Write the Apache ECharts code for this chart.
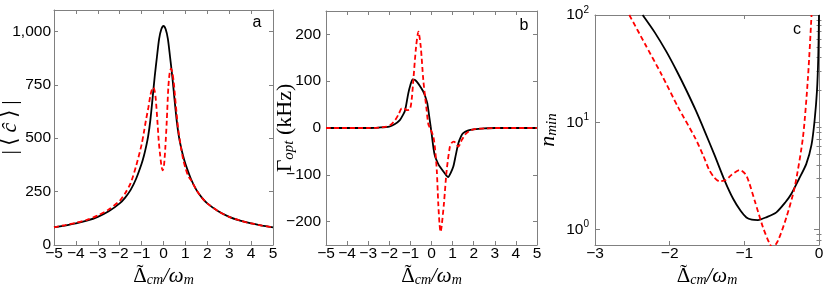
<!DOCTYPE html>
<html><head><meta charset="utf-8">
<script src="https://cdn.jsdelivr.net/npm/echarts@6/dist/echarts.min.js"></script>
<style>html,body{margin:0;padding:0;background:#fff}#c{width:830px;height:291px}</style>
</head><body><div id="c"></div>
<script>
// ---- data ----
const aBlackX = [-5,-4.5,-4,-3.5,-3,-2.5,-2,-1.75,-1.5,-1.25,-1,-0.9,-0.8,-0.7,-0.6,-0.5,-0.4,-0.3,-0.2,-0.1,0,0.1,0.2,0.3,0.4,0.5,0.6,0.7,0.8,0.9,1,1.25,1.5,1.75,2,2.5,3,3.5,4,4.5,5];
const aBlackY = [82,91,101,114,132,158,195,222,258,310,380,415,458,510,585,685,790,880,965,1010,1025,1010,965,880,790,685,585,510,458,415,380,310,258,222,195,158,132,114,101,91,82];
const aRedX = [-5,-4.5,-4,-3.5,-3,-2.5,-2,-1.75,-1.5,-1.25,-1,-0.9,-0.8,-0.69,-0.6,-0.53,-0.47,-0.4,-0.35,-0.28,-0.22,-0.16,-0.1,-0.04,0.02,0.08,0.15,0.22,0.28,0.34,0.4,0.47,0.53,0.6,0.68,0.8,0.9,1,1.13,1.25,1.5,1.75,2,2.5,3,3.5,4,4.5,5];
const aRedY = [83,93,104,118,138,166,207,242,290,370,470,525,585,644,700,728,737,720,680,582,490,427,375,349,370,450,582,737,805,826,810,760,691,615,536,455,400,362,322,305,258,222,195,158,132,114,101,91,82];

const bBlackX = [-5,-4,-3,-2.5,-2,-1.75,-1.5,-1.35,-1.25,-1.1,-1,-0.89,-0.8,-0.7,-0.55,-0.39,-0.3,-0.2,-0.1,0,0.1,0.17,0.3,0.4,0.6,0.79,0.9,1.03,1.15,1.27,1.4,1.5,1.75,2,2.5,3,4,5];
const bBlackY = [0,0,0,1,3,8,17,28,38,74,92,104,103,99,90,78,68,53,22,-10,-45,-61,-75,-83,-95,-105,-97,-83,-58,-33,-18,-11,-5,-3,-1,0,0,0];
const bRedX = [-5,-4,-3,-2.5,-2.12,-1.9,-1.72,-1.55,-1.41,-1.3,-1.17,-1.02,-0.93,-0.86,-0.73,-0.62,-0.51,-0.39,-0.3,-0.23,-0.15,-0.05,0.09,0.17,0.25,0.32,0.38,0.43,0.48,0.59,0.72,0.87,0.95,1.06,1.17,1.27,1.35,1.43,1.55,1.66,1.85,2.1,2.5,3,4,5];
const bRedY = [0,0,0,1,3,8,17,30,42,42,38,40,65,103,174,206,174,103,65,38,8,-2,-19,-45,-90,-161,-205,-222,-210,-161,-90,-40,-32,-29,-33,-40,-35,-26,-17,-11,-5,-2,-1,0,0,0];

const cBlackX = [-2.362,-2.2,-2.042,-1.9,-1.775,-1.65,-1.529,-1.4,-1.262,-1.15,-1.05,-0.972,-0.9,-0.817,-0.7,-0.571,-0.45,-0.372,-0.27,-0.17,-0.1,-0.059,-0.027,-0.01,0];
const cBlackY = [100,68.9,45.3,29.6,19.8,12.9,8.2,4.97,2.85,1.94,1.50,1.30,1.24,1.23,1.31,1.45,1.8,2.15,2.95,4.1,6.2,10.4,19.7,40,100];
const cRedX = [-2.54,-2.332,-2.11,-1.886,-1.663,-1.55,-1.47,-1.4,-1.33,-1.25,-1.17,-1.061,-0.972,-0.861,-0.75,-0.66,-0.62,-0.549,-0.437,-0.326,-0.215,-0.148,-0.1];
const cRedY = [100,54,28,13.8,7.25,4.9,3.6,3.05,2.82,2.9,3.25,3.6,3.19,1.86,1.05,0.736,0.68,0.79,1.30,2.48,7.25,26,100];

const aTicks = [0,250,500,750,1000];
const bTicks = [-200,-100,0,100,200];
const cTicks = [1,10,100];
const cMinor = [0.8,0.9,2,3,4,5,6,7,8,9,20,30,40,50,60,70,80,90];
const panelLabels = ['a','b','c'];

// ---- chart ----
const pairs = (xs, ys) => xs.map((x, i) => [x, ys[i]]);
const AX = '#808080';
const SANS = 'Liberation Sans';
const SERIF = 'Liberation Serif';
const minus = v => (v < 0 ? '\u2212' + Math.abs(v) : String(v));
const axLine = {show: true, onZero: false, lineStyle: {color: AX, width: 1}};

const NAME_FS = 21, SUB_FS = 14, X_GAP = 20, X_LH = 22;
const xRich = {
  r: {fontFamily: SERIF, fontSize: NAME_FS, color: '#000', lineHeight: X_LH},
  i: {fontFamily: SERIF, fontStyle: 'italic', fontSize: NAME_FS, color: '#000', lineHeight: X_LH},
  s: {fontFamily: SERIF, fontStyle: 'italic', fontSize: SUB_FS, color: '#000', padding: [8, 0, 0, 0]}
};
function xAx(grid, pos, min, max, labels) {
  return {
    type: 'value', gridIndex: grid, position: pos, min: min, max: max, interval: 1,
    axisLine: axLine,
    axisTick: {show: true, inside: true, length: 4, lineStyle: {color: AX}},
    splitLine: {show: false},
    axisLabel: labels ? {show: true, color: '#000', fontFamily: SANS, fontSize: 15.5, margin: 1, formatter: minus} : {show: false},
    name: labels ? '{r|\u0394}{s|cm}{i|/\u03c9}{s|m}' : '',
    nameLocation: 'middle', nameGap: X_GAP, nameMoveOverlap: false,
    nameTextStyle: {rich: xRich}
  };
}
function yAx(grid, pos, opts) {
  return Object.assign({
    type: 'value', gridIndex: grid, position: pos,
    axisLine: axLine,
    splitLine: {show: false},
    nameLocation: 'middle', nameRotate: 90, nameMoveOverlap: false
  }, opts);
}
const tickSty = (vals, len) => ({show: true, inside: true, length: len, lineStyle: {color: AX}, customValues: vals});
const nameRich = {
  r: {fontFamily: SERIF, fontSize: 22, color: '#000'},
  i: {fontFamily: SERIF, fontStyle: 'italic', fontSize: 22, color: '#000'},
  s: {fontFamily: SERIF, fontStyle: 'italic', fontSize: 15, color: '#000', padding: [8, 0, 0, 0]}
};

const grids = [
  {left: 54, top: 10, width: 219, height: 235, outerBoundsMode: 'none'},
  {left: 326, top: 11, width: 211, height: 234, outerBoundsMode: 'none'},
  {left: 595, top: 15, width: 224, height: 230, outerBoundsMode: 'none'}
];

// tilde accent over the Delta of each x-axis name (placed from text metrics)
const ctx = document.createElement('canvas').getContext('2d');
const mw = (t, f) => { ctx.font = f; return ctx.measureText(t).width; };
const wD = mw('\u0394', NAME_FS + 'px "' + SERIF + '"');
const wTot = wD + mw('cm', 'italic ' + SUB_FS + 'px "' + SERIF + '"') + mw('/\u03c9', 'italic ' + NAME_FS + 'px "' + SERIF + '"') + mw('m', 'italic ' + SUB_FS + 'px "' + SERIF + '"');
const tildes = grids.map(g => {
  const cx = g.left + g.width / 2 - wTot / 2 + wD / 2;
  const cy = g.top + g.height + X_GAP + X_LH / 2 - 3;
  return {type: 'text', x: cx, y: cy, silent: true, style: {text: '\u02dc', fontFamily: SERIF, fontSize: NAME_FS, fill: '#000', align: 'center', verticalAlign: 'middle'}};
});

const option = {
  animation: false,
  backgroundColor: '#fff',
  grid: grids,
  xAxis: [
    xAx(0, 'bottom', -5, 5, true), xAx(0, 'top', -5, 5, false),
    xAx(1, 'bottom', -5, 5, true), xAx(1, 'top', -5, 5, false),
    xAx(2, 'bottom', -3, 0, true), xAx(2, 'top', -3, 0, false)
  ],
  yAxis: [
    yAx(0, 'left', {min: 0, max: 1100, axisTick: tickSty(aTicks, 4),
      axisLabel: {color: '#000', fontFamily: SANS, fontSize: 15.5, margin: 3, customValues: aTicks,
        formatter: v => v >= 1000 ? Math.floor(v/1000) + ',' + String(v % 1000).padStart(3, '0') : String(v)},
      name: '{r||\u2009\u27e8\u2009}{i|\u0109}{r|\u2009\u27e9\u2009|}', nameGap: 33, nameTextStyle: {rich: nameRich}}),
    yAx(0, 'right', {min: 0, max: 1100, axisTick: tickSty(aTicks, 4), axisLabel: {show: false}}),
    yAx(1, 'left', {min: -250, max: 250, axisTick: tickSty(bTicks, 4),
      axisLabel: {color: '#000', fontFamily: SANS, fontSize: 15.5, margin: 5, customValues: bTicks, formatter: minus},
      name: '{r|\u0393}{s|opt}{r|\u00a0(kHz)}', nameGap: 29, nameTextStyle: {rich: nameRich}}),
    yAx(1, 'right', {min: -250, max: 250, axisTick: tickSty(bTicks, 4), axisLabel: {show: false}}),
    yAx(2, 'left', {type: 'log', logBase: 10, min: 0.72, max: 100, axisTick: tickSty(cTicks, 5),
      axisLabel: {color: '#000', customValues: cTicks, margin: 6,
        formatter: v => '{b|10}{e|' + Math.round(Math.log10(v)) + '}',
        rich: {b: {fontFamily: SANS, fontSize: 15.5, color: '#000'}, e: {fontFamily: SANS, fontSize: 10, color: '#000', padding: [0, 0, 10, 0]}}},
      name: '{i|n}{s|min}', nameGap: 35, nameTextStyle: {rich: nameRich}}),
    yAx(2, 'right', {type: 'log', logBase: 10, min: 0.72, max: 100, axisTick: tickSty(cTicks, 5), axisLabel: {show: false}}),
    yAx(2, 'left', {type: 'log', logBase: 10, min: 0.72, max: 100, axisLine: {show: false}, axisTick: tickSty(cMinor, 2.5), axisLabel: {show: false}}),
    yAx(2, 'right', {type: 'log', logBase: 10, min: 0.72, max: 100, axisLine: {show: false}, axisTick: tickSty(cMinor, 2.5), axisLabel: {show: false}})
  ],
  series: [
    {type: 'line', xAxisIndex: 0, yAxisIndex: 0, data: pairs(aBlackX, aBlackY), showSymbol: false, smooth: 0.25, lineStyle: {color: '#000', width: 1.8}},
    {type: 'line', xAxisIndex: 0, yAxisIndex: 0, data: pairs(aRedX, aRedY), showSymbol: false, smooth: 0.25, lineStyle: {color: '#ff0000', width: 1.8, type: [5, 3]}},
    {type: 'line', xAxisIndex: 2, yAxisIndex: 2, data: pairs(bBlackX, bBlackY), showSymbol: false, smooth: 0.25, lineStyle: {color: '#000', width: 1.8}},
    {type: 'line', xAxisIndex: 2, yAxisIndex: 2, data: pairs(bRedX, bRedY), showSymbol: false, smooth: 0.25, lineStyle: {color: '#ff0000', width: 1.8, type: [5, 3]}},
    {type: 'line', xAxisIndex: 4, yAxisIndex: 4, data: pairs(cBlackX, cBlackY), showSymbol: false, smooth: 0.25, lineStyle: {color: '#000', width: 1.8}},
    {type: 'line', xAxisIndex: 4, yAxisIndex: 4, data: pairs(cRedX, cRedY), showSymbol: false, smooth: 0.25, lineStyle: {color: '#ff0000', width: 1.8, type: [5, 3]}}
  ],
  graphic: [
    {type: 'text', x: 257, y: 23, style: {text: panelLabels[0], fontFamily: SANS, fontSize: 16, fill: '#000', align: 'center', verticalAlign: 'middle'}},
    {type: 'text', x: 524, y: 26, style: {text: panelLabels[1], fontFamily: SANS, fontSize: 16, fill: '#000', align: 'center', verticalAlign: 'middle'}},
    {type: 'text', x: 797, y: 30, style: {text: panelLabels[2], fontFamily: SANS, fontSize: 16, fill: '#000', align: 'center', verticalAlign: 'middle'}}
  ].concat(tildes)
};
const chart = echarts.init(document.getElementById('c'), null, {renderer: 'canvas'});
chart.setOption(option);
</script>
</body></html>
